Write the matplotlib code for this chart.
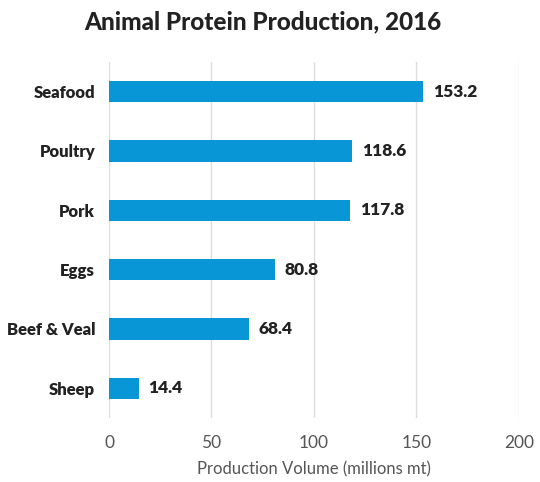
import matplotlib.pyplot as plt

plt.rcParams['font.family'] = ['Lato', 'DejaVu Sans']

categories = ['Sheep', 'Beef & Veal', 'Eggs', 'Pork', 'Poultry', 'Seafood']
values = [14.4, 68.4, 80.8, 117.8, 118.6, 153.2]
ticks = [0, 50, 100, 150, 200]

fig = plt.figure(figsize=(5.4, 4.82), dpi=100)
ax = fig.add_axes([0.2019, 0.1328, 0.759, 0.7386])

ypos = range(len(categories))
ax.barh(ypos, values, height=0.36, color='#0996d6', zorder=3)
for y, v in zip(ypos, values):
    ax.annotate(f'{v:.1f}', (v, y), xytext=(7, 0), textcoords='offset points',
                va='center', ha='left', fontsize=12.5, fontweight='heavy', color='#222222')

ax.set_xlim(0, 200)
ax.set_ylim(-0.5, len(categories) - 0.5)
ax.set_xticks(ticks)
ax.set_xticklabels([str(t) for t in ticks], fontsize=12.5, color='#555555')
ax.set_yticks(list(ypos))
ax.set_yticklabels(categories, fontsize=12, fontweight='heavy', color='#222222')
ax.tick_params(axis='both', length=0)
ax.tick_params(axis='x', pad=12)
ax.tick_params(axis='y', pad=10)
ax.grid(axis='x', color='#dddddd', linewidth=1, zorder=0)
for s in ax.spines.values():
    s.set_visible(False)

ax.set_xlabel('Production Volume (millions mt)', fontsize=12, color='#555555', labelpad=8)
fig.text(0.487, 0.955, 'Animal Protein Production, 2016', ha='center', va='center',
         fontsize=17.5, fontweight='black', color='#222222')

fig.savefig('out.png', dpi=100)
